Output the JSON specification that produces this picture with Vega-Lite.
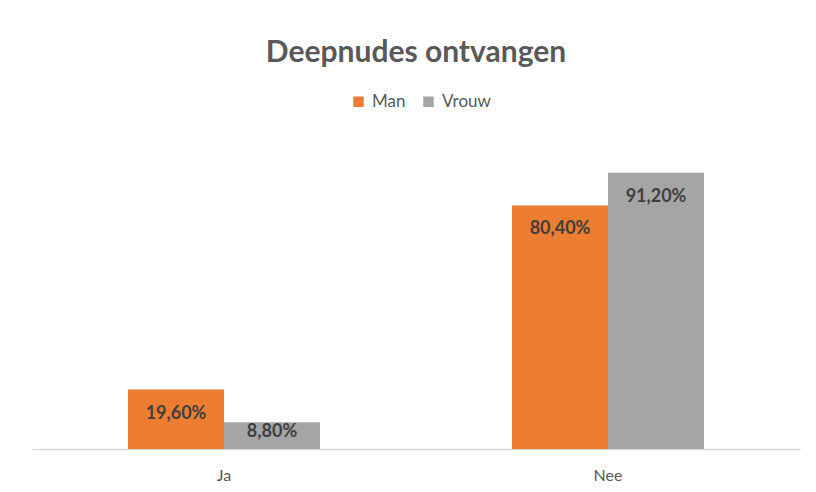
{
  "$schema": "https://vega.github.io/schema/vega-lite/v6.json",
  "width": 768,
  "height": 303,
  "autosize": {"type": "none"},
  "padding": {"left": 32, "top": 146, "right": 16, "bottom": 43},
  "background": "white",
  "config": {
    "view": {"stroke": null},
    "font": "Lato",
    "locale": {"number": {"decimal": ",", "thousands": ".", "grouping": [3], "currency": ["€", ""]}}
  },
  "title": {
    "text": "Deepnudes ontvangen",
    "fontSize": 30,
    "fontWeight": "bold",
    "color": "#595959",
    "anchor": "middle",
    "orient": "top",
    "offset": 25
  },
  "data": {
    "values": [
      {"categorie": "Ja", "geslacht": "Man", "waarde": 0.196},
      {"categorie": "Ja", "geslacht": "Vrouw", "waarde": 0.088},
      {"categorie": "Nee", "geslacht": "Man", "waarde": 0.804},
      {"categorie": "Nee", "geslacht": "Vrouw", "waarde": 0.912}
    ]
  },
  "encoding": {
    "x": {
      "field": "categorie",
      "type": "nominal",
      "sort": ["Ja", "Nee"],
      "scale": {"paddingInner": 0.5, "paddingOuter": 0.25},
      "axis": {
        "title": null,
        "labelAngle": 0,
        "ticks": false,
        "domainColor": "#D9D9D9",
        "domainWidth": 1.5,
        "labelColor": "#595959",
        "labelFontSize": 16,
        "labelPadding": 18
      }
    },
    "xOffset": {"field": "geslacht", "type": "nominal", "sort": ["Man", "Vrouw"], "scale": {"paddingInner": 0, "paddingOuter": 0}},
    "y": {
      "field": "waarde",
      "type": "quantitative",
      "scale": {"domain": [0, 1], "nice": false},
      "axis": null
    }
  },
  "layer": [
    {
      "mark": {"type": "bar"},
      "encoding": {
        "color": {
          "field": "geslacht",
          "type": "nominal",
          "sort": ["Man", "Vrouw"],
          "scale": {"domain": ["Man", "Vrouw"], "range": ["#ED7D31", "#A5A5A5"]},
          "legend": {
            "title": null,
            "orient": "none",
            "direction": "horizontal",
            "legendX": 318,
            "legendY": -53,
            "symbolType": "square",
            "symbolSize": 110,
            "symbolStrokeWidth": 0,
            "labelFontSize": 17,
            "labelColor": "#595959",
            "labelOffset": 5,
            "columnPadding": 14
          }
        }
      }
    },
    {
      "transform": [{"filter": "datum.waarde > 0.1"}],
      "mark": {"type": "text", "baseline": "middle", "dy": 24, "fontSize": 18, "fontWeight": "bold", "color": "#404040"},
      "encoding": {
        "text": {"field": "waarde", "type": "quantitative", "format": ".2%"}
      }
    },
    {
      "transform": [{"filter": "datum.waarde <= 0.1"}],
      "mark": {"type": "text", "baseline": "middle", "dy": 10, "fontSize": 18, "fontWeight": "bold", "color": "#404040"},
      "encoding": {
        "text": {"field": "waarde", "type": "quantitative", "format": ".2%"}
      }
    }
  ]
}
